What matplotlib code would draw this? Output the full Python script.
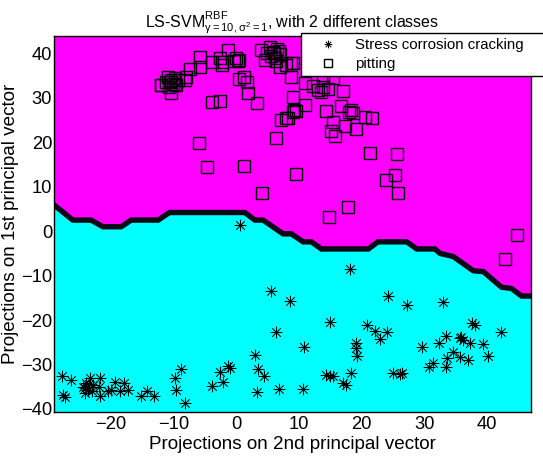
import matplotlib
matplotlib.use("Agg")
import matplotlib.pyplot as plt
from matplotlib.path import Path
import numpy as np

plt.rcParams['font.family'] = ['Liberation Sans', 'DejaVu Sans']
plt.rcParams['mathtext.fontset'] = 'custom'
plt.rcParams['mathtext.rm'] = 'Liberation Sans'
plt.rcParams['mathtext.it'] = 'Liberation Sans'
plt.rcParams['mathtext.bf'] = 'Liberation Sans:bold'

# decision boundary (class boundary of the LS-SVM classifier)
bnd_x = [-29, -26.0, -23.1, -21.2, -18.3, -16.7, -12.4, -10.6, 1.4, 3.0, 4.3, 7.5, 8.8,
         10.7, 12.0, 13.6, 21.1, 22.6, 27.2, 28.8, 31.7, 32.5, 34.6, 37.8, 39.4, 42.3,
         43.9, 45.5, 47]
bnd_y = [5.9, 2.5, 2.5, 1.0, 1.0, 2.5, 2.5, 4.2, 4.2, 2.5, 2.5, -0.6, -0.6,
         -2.4, -2.4, -4.0, -4.0, -2.4, -2.4, -4.0, -4.0, -5.0, -5.7, -8.9, -9.1, -12.6,
         -12.9, -14.6, -14.6]

# pitting (squares)
pit_x = [-11.9, -11.1, -10.3, -9.8, -9.2, -8.2, -7.9, -9.5, -10.3, -10.6, -12.0, -10.0, -10.8, -10.5, -9.8,
         -5.8, -5.8, -7.3, -3.9, -2.3, -2.3, -2.6, -1.3, -0.4, 0.3, 0.0, 0.5, 0.4, 1.2, 1.7, 1.9, 3.4,
         -3.8, -2.6, -5.9, -4.7, 1.2, 4.2, 6.3, 9.5,
         4.0, 5.4, 5.9, 6.5, 7.0, 6.2, 5.5, 7.0, 4.6, 8.8, 8.0, 6.0, 6.8, 5.0, 6.3,
         8.7, 9.1, 9.1, 7.2, 8.3, 9.2, 9.1, 11.0, 12.3, 13.1, 13.6, 13.9, 14.7, 15.5, 13.9, 17.1,
         11.0, 9.6, 8.0, 14.4, 16.8, 18.4, 18.7, 18.0, 20.5, 21.6, 15.5, 17.3, 19.1, 15.1, 15.7,
         21.3, 25.7, 25.3, 23.9, 25.8, 17.8, 14.8, 44.7, 42.9]
pit_y = [32.9, 33.6, 34.0, 34.4, 34.0, 34.0, 34.7, 32.9, 31.0, 32.5, 32.9, 33.2, 34.7, 33.5, 33.0,
         39.2, 36.9, 36.4, 38.1, 38.1, 37.4, 38.9, 40.7, 38.2, 38.2, 39.0, 38.5, 34.2, 34.7, 33.6, 31.0, 28.8,
         29.1, 29.3, 19.8, 14.5, 14.7, 8.6, 20.9, 12.8,
         40.7, 41.5, 40.4, 41.0, 39.8, 39.0, 39.5, 37.0, 38.5, 37.8, 37.4, 40.0, 40.5, 40.0, 38.3,
         34.7, 30.2, 26.9, 25.0, 25.4, 27.3, 37.8, 33.3, 32.6, 31.7, 31.4, 32.5, 31.9, 34.4, 34.4, 31.5,
         28.5, 27.1, 25.4, 27.1, 28.1, 27.2, 26.5, 26.9, 25.7, 25.4, 24.6, 23.6, 23.1, 22.6, 21.4,
         17.5, 17.4, 12.6, 11.5, 8.6, 5.4, 3.2, -0.8, -6.3]

# stress corrosion cracking (asterisks)
scc_x = [0.6, 5.5, 8.6, 6.3, 3.1, 3.5, 4.5, 3.3, 6.9, 10.6, -1.3, -2.6, -2.1, -1.0, -3.9,
         -8.7, -9.8, -9.5, -8.2,
         -27.7, -26.3, -27.5, -27.2, -23.9, -24.4, -23.6, -24.1, -23.0, -23.3, -21.7, -21.9, -21.7,
         -22.8, -24.0, -23.5, -20.4, -19.9, -19.3, -18.5, -17.8, -17.2, -15.2, -14.2, -13.1,
         18.1, 24.2, 27.3, 33.0, 14.9, 20.9, 22.1, 22.9, 24.0, 10.8, 19.1, 19.1, 19.3, 14.3, 15.5,
         15.0, 18.4, 17.1, 17.6, 25.0, 26.1, 26.4, 37.6, 38.1, 42.2, 29.7, 32.4, 33.4, 35.7, 36.2,
         37.3, 35.9, 39.4, 40.2, 34.6, 35.7, 37.0, 33.6, 33.5, 31.4, 30.8]
scc_y = [1.5, -13.5, -15.7, -22.8, -27.9, -31.1, -32.6, -36.2, -35.5, -35.6, -30.3, -31.8, -33.9, -30.8, -34.8,
         -31.1, -33.1, -35.7, -38.7,
         -32.7, -33.6, -36.9, -37.3, -34.2, -35.0, -35.7, -36.5, -35.9, -33.1, -33.0, -35.0, -37.2,
         -34.6, -35.3, -34.5, -35.9, -35.8, -33.9, -35.9, -34.2, -35.8, -37.1, -35.9, -37.2,
         -8.6, -14.7, -16.6, -16.0, -20.4, -21.1, -22.4, -24.3, -22.8, -26.1, -25.2, -26.4, -28.1, -32.4, -32.5,
         -32.7, -32.0, -34.1, -34.6, -32.0, -32.2, -31.9, -20.7, -21.1, -22.6, -26.0, -25.2, -23.6, -24.0, -24.6,
         -25.2, -23.8, -25.5, -28.1, -27.2, -28.3, -29.1, -28.6, -30.5, -29.7, -30.5]

x_ticks = [-20, -10, 0, 10, 20, 30, 40]
y_ticks = [-40, -30, -20, -10, 0, 10, 20, 30, 40]
xlim = (-29, 47)
ylim = (-40.7, 44)

FS_TICK = 13.2
FS_LABEL = 13.6
FS_TITLE = 11.5
FS_LEG = 10.8

# MATLAB-like asterisk marker: a plus and a shorter cross
d = 0.72
ast_path = Path([(-1, 0), (1, 0), (0, -1), (0, 1), (-d, -d), (d, d), (-d, d), (d, -d)],
                [Path.MOVETO, Path.LINETO] * 4)

fig = plt.figure(figsize=(5.43, 4.57), dpi=100)
ax = fig.add_axes([54/543, (457-412)/457, (531-54)/543, (412-35.7)/457])

ax.fill_between(bnd_x, ylim[0], bnd_y, color='#00FFFF', lw=0, zorder=1)
ax.fill_between(bnd_x, bnd_y, ylim[1], color='#FF00FF', lw=0, zorder=1)
ax.plot(bnd_x, bnd_y, color='#0a0a14', lw=3.9, solid_joinstyle='miter', zorder=2)

ax.plot(scc_x, scc_y, linestyle='none', marker=ast_path, ms=8.5, mec='k', mew=0.75,
        color='k', label='Stress corrosion cracking', zorder=4)
ax.plot(pit_x, pit_y, linestyle='none', marker='s', ms=8.0, mfc='none', mec='k', mew=1.0,
        label='pitting', zorder=3)

ax.set_xlim(*xlim)
ax.set_ylim(*ylim)
ax.set_xticks(x_ticks)
ax.set_yticks(y_ticks)
ax.tick_params(length=0, labelsize=FS_TICK)
ax.tick_params(axis='x', pad=2.7)
ax.tick_params(axis='y', pad=1.3)
for s in ax.spines.values():
    s.set_color('k')
    s.set_linewidth(1.0)
    s.set_zorder(5)

ax.set_xlabel('Projections on 2nd principal vector', fontsize=FS_LABEL, labelpad=2.2)
ax.set_ylabel('Projections on 1st principal vector', fontsize=FS_LABEL, labelpad=1.8)
ax.set_title(r'LS-SVM$^{\mathrm{RBF}}_{\gamma=10,\sigma^2=1}$, with 2 different classes',
             fontsize=FS_TITLE, pad=-3.2)

leg = ax.legend(loc='upper left', bbox_to_anchor=(301/543, 1-33.3/457, 0.5, 0.0),
                bbox_transform=fig.transFigure, mode='expand', borderaxespad=0,
                fontsize=FS_LEG, frameon=True, fancybox=False, framealpha=1,
                edgecolor='k', borderpad=0.32, labelspacing=0.32, handlelength=3.0,
                handletextpad=0.25, markerscale=0.65)
leg.get_frame().set_linewidth(1.0)
leg.set_zorder(10)

fig.savefig('out.png', dpi=100)
